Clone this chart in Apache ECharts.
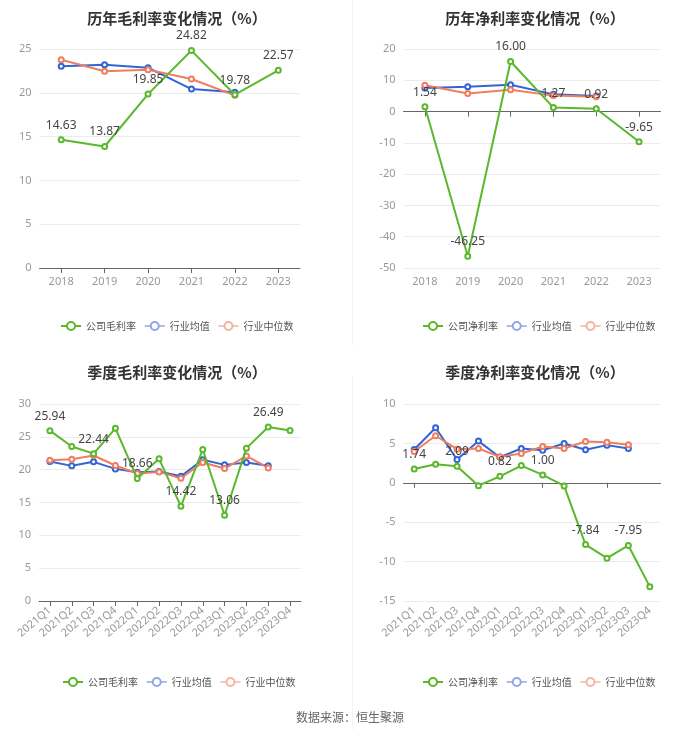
<!DOCTYPE html>
<html>
<head>
<meta charset="utf-8">
<script src="https://cdn.jsdelivr.net/npm/echarts@6/dist/echarts.min.js"></script>
<style>
html,body{margin:0;padding:0;background:#fff;}
#c{width:700px;height:733px;}
</style>
</head>
<body>
<div id="c"></div>
<script>
// ---- Data ----
const yearCats = ['2018','2019','2020','2021','2022','2023'];
const quarterCats = ['2021Q1','2021Q2','2021Q3','2021Q4','2022Q1','2022Q2','2022Q3','2022Q4','2023Q1','2023Q2','2023Q3','2023Q4'];

const annualGross = [14.63, 13.87, 19.85, 24.82, 19.78, 22.57];
const annualGrossAvg = [23.02, 23.2, 22.87, 20.43, 20.05];
const annualGrossMed = [23.78, 22.45, 22.64, 21.58, 19.71];

const annualNet = [1.54, -46.25, 16.00, 1.27, 0.92, -9.65];
const annualNetAvg = [7.53, 7.96, 8.6, 5.5, 5.0];
const annualNetMed = [8.4, 5.8, 7.0, 5.1, 4.76];

const quarterGross = [25.94, 23.53, 22.44, 26.29, 18.66, 21.65, 14.42, 23.08, 13.06, 23.28, 26.49, 25.98];
const quarterGrossAvg = [21.24, 20.58, 21.19, 20.12, 19.61, 19.71, 19.0, 21.5, 20.73, 21.09, 20.58];
const quarterGrossMed = [21.45, 21.6, 22.16, 20.63, 19.41, 19.66, 18.7, 21.09, 20.17, 22.1, 20.27];

const quarterNet = [1.74, 2.36, 2.09, -0.36, 0.82, 2.19, 1.00, -0.4, -7.84, -9.57, -7.95, -13.18];
const quarterNetAvg = [4.23, 6.99, 2.95, 5.29, 3.25, 4.35, 4.14, 4.99, 4.19, 4.78, 4.35];
const quarterNetMed = [3.97, 5.97, 4.27, 4.35, 3.29, 3.72, 4.61, 4.35, 5.25, 5.16, 4.82];

const titles = ['历年毛利率变化情况（%）','历年净利率变化情况（%）','季度毛利率变化情况（%）','季度净利率变化情况（%）'];
const companyNames = ['公司毛利率','公司净利率','公司毛利率','公司净利率'];
const avgName = '行业均值';
const medName = '行业中位数';
const sourceText = '数据来源：恒生聚源';

// ---- Style ----
const GREEN = '#59b82b';
const BLUE = '#3264d6';
const ORANGE = '#f07d5d';
const CJK = '"Noto Sans CJK SC", sans-serif';

const panels = [
  {grid:{left:39.5, top:49, width:260.5, height:219}, cats:yearCats, min:0, max:25, interval:5, zeroAxis:false, rotate:0,
   comp:annualGross, avg:annualGrossAvg, med:annualGrossMed, labelAll:true, titleX:172, titleY:13, legendX:55, legendY:322},
  {grid:{left:403.5, top:49, width:257, height:219}, cats:yearCats, min:-50, max:20, interval:10, zeroAxis:true, rotate:0,
   comp:annualNet, avg:annualNetAvg, med:annualNetMed, labelAll:true, titleX:530, titleY:13, legendX:417, legendY:322},
  {grid:{left:39, top:404, width:262, height:197}, cats:quarterCats, min:0, max:30, interval:5, zeroAxis:false, rotate:40,
   comp:quarterGross, avg:quarterGrossAvg, med:quarterGrossMed, labelAll:false, titleX:172, titleY:367, legendX:57, legendY:678},
  {grid:{left:403.5, top:404, width:257, height:197}, cats:quarterCats, min:-15, max:10, interval:5, zeroAxis:true, rotate:40,
   comp:quarterNet, avg:quarterNetAvg, med:quarterNetMed, labelAll:false, titleX:530, titleY:367, legendX:417, legendY:678}
];

const option = {
  backgroundColor:'#fff',
  animation:false,
  title:[], grid:[], xAxis:[], yAxis:[], series:[], legend:[],
  graphic:[
    {type:'line', shape:{x1:352.5,y1:0,x2:352.5,y2:345}, style:{stroke:'#f4f4f4', lineWidth:1}},
    {type:'line', shape:{x1:352.5,y1:376,x2:352.5,y2:730}, style:{stroke:'#f4f4f4', lineWidth:1}},
    {type:'text', left:'center', top:711, style:{text:sourceText, fill:'#666', font:'12px ' + CJK}}
  ]
};

panels.forEach((p, i) => {
  option.title.push({text:titles[i], left:p.titleX, top:p.titleY, textAlign:'center', textVerticalAlign:'middle',
    textStyle:{fontSize:15, fontWeight:'bold', color:'#333', fontFamily:CJK}});
  option.grid.push(Object.assign({containLabel:false}, p.grid));
  const xiMain = option.xAxis.length;
  option.xAxis.push({
    type:'category', gridIndex:i, data:p.cats, boundaryGap:true, position:'bottom',
    axisLine:{show:!p.zeroAxis, onZero:false, lineStyle:{color:'#666'}},
    axisTick:{show:!p.zeroAxis, alignWithLabel:true, lineStyle:{color:'#666'}},
    axisLabel:{color:'#999', fontSize:11, margin:8, rotate:p.rotate, interval:0, fontFamily:'"Noto Sans", sans-serif'}
  });
  if (p.zeroAxis) {
    option.xAxis.push({
      type:'category', gridIndex:i, data:p.cats, boundaryGap:true, position:'bottom',
      axisLine:{show:true, onZero:true, lineStyle:{color:'#666'}},
      axisTick:{show:true, alignWithLabel:true, lineStyle:{color:'#666'}},
      axisLabel:{show:false}
    });
  }
  const yi = option.yAxis.length;
  option.yAxis.push({
    type:'value', gridIndex:i, min:p.min, max:p.max, interval:p.interval,
    axisLine:{show:false}, axisTick:{show:false},
    axisLabel:{color:'#999', fontSize:11, margin:8, fontFamily:'"Noto Sans", sans-serif'},
    splitLine:{lineStyle:{color:'#ebebeb'}}
  });
  const compData = p.comp.map((v, k) => ({value:v, label:{show: p.labelAll || k % 2 === 0}}));
  const common = {type:'line', xAxisIndex:xiMain, yAxisIndex:yi, symbol:'emptyCircle', symbolSize:5, z:3};
  option.series.push(Object.assign({}, common, {
    name:companyNames[i], data:compData, z:5,
    itemStyle:{color:GREEN}, lineStyle:{color:GREEN, width:2},
    label:{show:true, position:'top', color:'#444', fontSize:12, formatter:(d)=>d.value.toFixed(2), fontFamily:'"Noto Sans", sans-serif'}
  }));
  option.series.push(Object.assign({}, common, {
    name:avgName, data:p.avg, itemStyle:{color:BLUE}, lineStyle:{color:BLUE, width:2}
  }));
  option.series.push(Object.assign({}, common, {
    name:medName, data:p.med, itemStyle:{color:ORANGE}, lineStyle:{color:ORANGE, width:2}
  }));
  option.legend.push({
    left:p.legendX, top:p.legendY - 6, orient:'horizontal', itemWidth:20, itemHeight:10, itemGap:8, width:300,
    textStyle:{color:'#555', fontSize:10, fontFamily:CJK},
    data:[
      {name:companyNames[i], itemStyle:{color:GREEN, borderColor:GREEN, borderWidth:2}, lineStyle:{color:GREEN, width:2}},
      {name:avgName, itemStyle:{color:'#8fa6e8', borderColor:'#8fa6e8', borderWidth:1.5}, lineStyle:{color:'#8fa6e8', width:1.5}},
      {name:medName, itemStyle:{color:'#f4b4a2', borderColor:'#f4b4a2', borderWidth:1.5}, lineStyle:{color:'#f4b4a2', width:1.5}}
    ]
  });
});

const chart = echarts.init(document.getElementById('c'), null, {renderer:'canvas'});
chart.setOption(option);
</script>
</body>
</html>
